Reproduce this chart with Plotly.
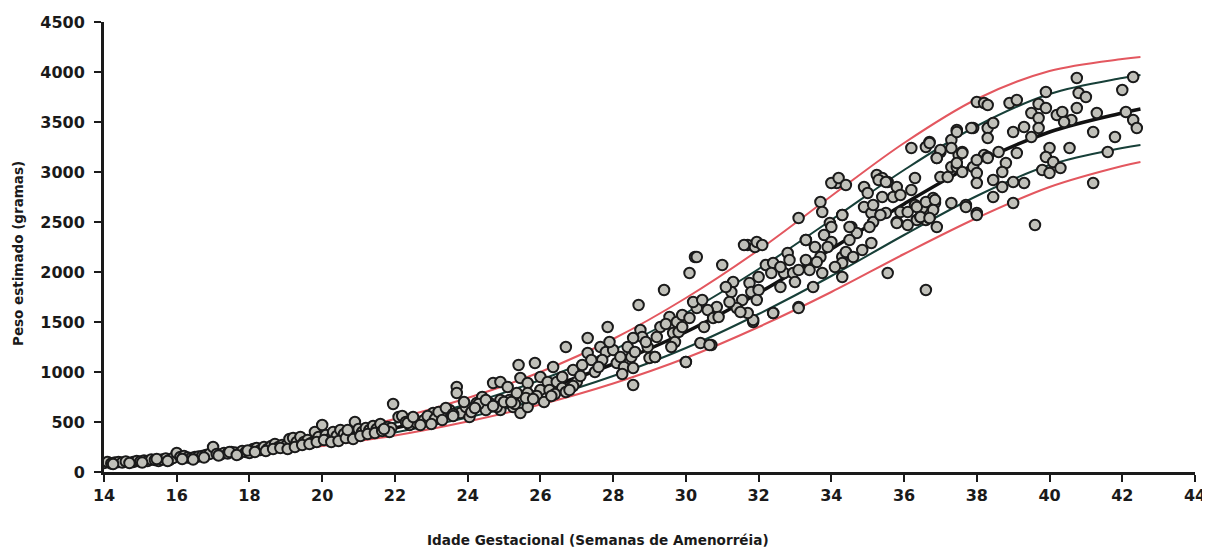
import plotly.graph_objects as go

# ---- reference curves ----
curve_weeks = [14, 16, 18, 20, 22, 24, 26, 28, 30, 32, 34, 36, 38, 40, 42, 42.5]
p_red_hi   = [100, 165, 250, 370, 530, 740, 1000, 1330, 1740, 2220, 2760, 3290, 3730, 4010, 4130, 4150]
p_teal_hi  = [95, 155, 235, 345, 490, 680, 920, 1220, 1590, 2030, 2520, 3020, 3460, 3780, 3940, 3970]
p_median   = [85, 140, 210, 310, 440, 610, 820, 1080, 1400, 1790, 2230, 2680, 3090, 3400, 3590, 3630]
p_teal_lo  = [75, 125, 190, 280, 395, 545, 730, 960, 1240, 1580, 1960, 2370, 2760, 3070, 3240, 3270]
p_red_lo   = [70, 115, 175, 260, 365, 505, 675, 885, 1140, 1450, 1800, 2180, 2540, 2850, 3060, 3100]

# ---- observations: gestational age (weeks) and estimated weight (g) ----
ga_a = [14.0,14.1,14.2,14.3,14.4,14.5,14.6,14.8,14.9,15.0,15.1,15.2,15.3,15.4,15.5,15.6,15.7,15.8,15.9,16.0,
        16.1,16.2,16.3,16.4,16.5,16.6,16.7,16.8,16.9,17.0,17.1,17.2,17.3,17.4,17.5,17.6,17.7,17.8,17.9,18.0,
        18.1,18.2,18.3,18.4,18.5,18.6,18.7,18.8,18.9,19.0,19.1,19.2,19.3,19.4,19.5,19.6,19.7,19.8,19.9,20.0,
        20.1,20.2,20.3,20.4,20.5,20.6,20.8,20.9,21.0,21.1,21.2,21.3,21.4,21.5,21.6,21.8,21.9,21.95,
        14.25,14.7,15.05,15.45,15.75,16.15,16.45,16.75,17.15,17.45,17.65,17.95,18.15,18.45,18.65,18.85,
        19.05,19.25,19.45,19.65,19.85,20.05,20.25,20.45,20.65,20.85,21.05,21.25,21.45,21.65,21.85,20.7,21.7]
wt_a = [90,100,85,95,100,95,105,100,110,105,115,110,125,120,110,125,135,120,140,190,
        150,160,145,140,150,155,160,170,180,250,180,175,190,185,200,195,180,210,200,190,
        230,240,220,250,230,260,280,250,270,260,330,340,300,350,300,320,290,400,350,470,
        370,330,400,360,420,380,350,500,430,400,440,420,460,430,480,450,440,680,
        80,90,95,130,110,130,125,145,165,200,170,215,200,210,230,240,
        230,250,270,280,300,320,300,310,340,330,360,380,390,410,400,420,430]

ga_b = [22.1,22.2,22.3,22.4,22.5,22.6,22.35,22.5,22.8,23.05,23.3,23.5,23.8,23.95,24.05,24.25,
        23.7,23.7,25.4,25.85,26.35,24.7,24.9,25.1,25.45,25.65,26.0,26.2,26.45,26.6,26.9,27.0,
        24.4,24.6,24.9,25.15,25.35,25.65,26.0,26.25,26.6,26.85,24.5,24.9,25.25,25.45,25.65,
        22.7,22.9,23.1,23.2,23.4,23.6,23.9,24.1,24.3,24.5,24.8,25.0,25.3,25.6,25.9,26.1,26.4,26.7,26.9,
        23.0,23.3,23.6,24.2,24.7,25.2,25.8,26.3,26.8]
wt_b = [550,560,500,470,530,490,490,550,520,590,550,620,590,650,550,690,
        850,790,1070,1090,1050,890,900,850,940,890,950,900,900,950,1020,900,
        750,690,720,720,790,790,820,820,840,850,620,620,650,590,650,
        470,560,530,600,640,580,700,600,680,720,650,700,680,740,760,700,780,800,860,
        480,520,560,640,660,700,730,760,820]

ga_c = [26.7,27.3,27.85,28.7,28.55,30.25,30.1,29.4,30.0,29.55,29.75,29.9,30.1,30.3,30.2,
        28.75,28.8,28.55,28.95,29.15,29.65,29.7,29.6,27.65,27.8,28.0,27.7,28.1,27.3,27.4,27.15,
        28.4,28.5,28.3,29.0,28.55,27.5,28.2,28.9,29.3,29.8,27.9,28.6,29.2,29.9,27.1,27.6,28.25,29.45]
wt_c = [1250,1340,1450,1670,870,2150,1990,1820,1100,1550,1500,1570,1540,1640,1700,
        1420,1350,1340,1250,1150,1390,1300,1250,1250,1200,1220,1120,1090,1190,1120,1070,
        1250,1150,1050,1140,1040,1000,1150,1300,1450,1400,1300,1200,1350,1450,960,1050,980,1480]

ga_d = [30.3,31.0,31.7,31.9,32.8,33.1,33.3,33.7,33.75,33.96,34.3,34.15,30.0,30.4,30.7,33.1,32.4,31.85,29.15,
        31.6,31.95,32.1,34.85,35.1,34.55,34.7,34.5,34.0,33.8,34.0,33.9,34.3,34.3,34.3,34.4,
        33.3,33.55,33.7,33.75,33.3,33.4,33.5,32.85,32.7,32.95,32.2,32.4,32.35,32.6,33.1,
        32.0,31.75,31.3,31.25,31.1,31.8,32.0,31.95,31.55,31.4,31.85,31.7,32.4,33.1,
        30.85,30.6,30.45,30.75,30.9,30.65,30.5,31.2,31.5,32.6,33.0,33.6,34.1,34.6]
wt_d = [2150,2070,2270,2250,2190,2540,2320,2700,2600,2490,2570,2890,1100,1290,1270,1650,1590,1500,1150,
        2270,2300,2270,2220,2290,2450,2390,2320,2450,2370,2300,2250,2150,2090,1950,2200,
        2320,2250,2150,1990,2120,2020,1850,2120,1990,1990,2070,2090,1990,2050,2020,
        1950,1890,1900,1800,1850,1800,1820,1720,1720,1640,1520,1590,1590,1640,
        1650,1620,1720,1540,1550,1270,1450,1700,1600,1850,1900,2100,2050,2150]

ga_e = [38.0,38.2,38.3,38.9,39.1,37.9,38.3,38.45,38.3,37.45,37.3,36.7,36.6,36.2,37.0,36.9,37.6,37.5,
        38.2,38.3,38.6,39.0,39.1,39.3,34.0,34.2,34.4,35.25,35.4,35.55,34.9,35.0,35.8,36.2,36.3,
        37.0,37.2,37.3,37.45,37.6,37.9,38.0,38.0,38.45,38.7,39.0,39.3,35.4,35.7,35.9,36.3,
        36.5,36.8,36.85,37.3,37.7,38.0,38.45,39.0,34.9,35.1,35.15,34.3,34.5,35.5,35.8,35.9,
        36.35,36.6,36.9,36.6,35.55,39.6,
        40.75,42.3,42.0,40.8,41.0,39.9,39.7,39.9,39.5,39.7,40.2,40.35,40.75,41.3,40.6,42.3,42.4,
        41.2,39.5,39.7,40.55,40.0,39.9,40.1,40.3,39.8,40.0,38.8,38.7,41.2,
        36.1,36.45,36.7,35.8,36.1,35.15,35.35,35.05,36.35,36.6,36.85,36.8,36.45,36.7,37.7,38.0,
        35.3,35.5,37.45,37.85,37.3,37.6,37.45,38.0,38.3,36.7,37.0,36.9,41.6,42.1,40.4,41.8]
wt_e = [3700,3690,3670,3690,3720,3440,3440,3490,3340,3420,3320,3300,3250,3240,3200,3140,3200,3170,
        3170,3150,3200,3400,3190,3450,2890,2940,2870,2970,2940,2900,2850,2790,2850,2820,2940,
        2950,2950,3050,3050,3000,3050,2990,2890,2920,2850,2900,2890,2750,2750,2770,2670,
        2640,2740,2690,2690,2670,2590,2750,2690,2650,2590,2500,2570,2450,2590,2500,2600,
        2520,2520,2450,1820,1990,2470,
        3940,3950,3820,3790,3750,3800,3680,3640,3590,3540,3570,3600,3640,3590,3520,3520,3440,
        3400,3350,3440,3240,3240,3150,3100,3040,3020,2990,3090,3000,2890,
        2600,2550,2540,2490,2470,2670,2570,2450,2650,2700,2720,2620,2550,2540,2650,2570,
        2920,2900,3400,3440,3240,3190,3090,3120,3140,3290,3220,3140,3200,3600,3500,3350]

ga_all = ga_a + ga_b + ga_c + ga_d + ga_e
wt_all = wt_a + wt_b + wt_c + wt_d + wt_e

RED = "#e3575f"
TEAL = "#173f38"
INK = "#1a1a1a"
FONT = "DejaVu Sans, Arial, sans-serif"

# page body has an 8px margin: figure coords = screen coords - 8
W, H = 1202, 545
L, R, T, B = 96, 1187, 14, 464   # plot area edges in figure pixels

fig = go.Figure()
for vals, col, w in [(p_red_hi, RED, 2), (p_red_lo, RED, 2),
                     (p_teal_hi, TEAL, 2), (p_teal_lo, TEAL, 2),
                     (p_median, "#111111", 3.5)]:
    fig.add_trace(go.Scatter(x=curve_weeks, y=vals, mode="lines",
                             line=dict(color=col, width=w, shape="spline"),
                             hoverinfo="skip", showlegend=False))

fig.add_trace(go.Scatter(x=ga_all, y=wt_all, mode="markers",
                         marker=dict(size=10.5, color="#c0c0b9",
                                     line=dict(color=INK, width=2)),
                         showlegend=False))

axis_font = dict(family=FONT, size=16, color=INK, weight="bold")
fig.update_xaxes(range=[14, 44], tickmode="linear", tick0=14, dtick=2, automargin=False,
                 showline=True, linecolor=INK, linewidth=3,
                 ticks="outside", ticklen=7, tickwidth=2, tickcolor=INK,
                 showgrid=False, zeroline=False, tickfont=axis_font)
fig.update_yaxes(range=[0, 4500], tickmode="linear", tick0=0, dtick=500, automargin=False,
                 showline=True, linecolor=INK, linewidth=3,
                 ticks="outside", ticklen=7, tickwidth=2, tickcolor=INK,
                 ticklabelstandoff=6,
                 showgrid=False, zeroline=False, tickfont=axis_font)

fig.add_annotation(text="Idade Gestacional (Semanas de Amenorréia)", xref="paper", yref="paper",
                   x=(598 - 8 - L) / (R - L), y=-(540 - 8 - B) / (B - T), showarrow=False,
                   xanchor="center", yanchor="middle",
                   font=dict(family=FONT, size=13.6, color=INK, weight="bold"))
fig.add_annotation(text="Peso estimado (gramas)", xref="paper", yref="paper",
                   x=-(L - (18 - 8)) / (R - L), y=(B - (254 - 8)) / (B - T), showarrow=False, textangle=-90,
                   xanchor="center", yanchor="middle",
                   font=dict(family=FONT, size=13.5, color=INK, weight="bold"))

fig.update_layout(width=W, height=H, margin=dict(l=L, r=W - R, t=T, b=H - B),
                  plot_bgcolor="white", paper_bgcolor="white")
fig.write_html("out.html")
